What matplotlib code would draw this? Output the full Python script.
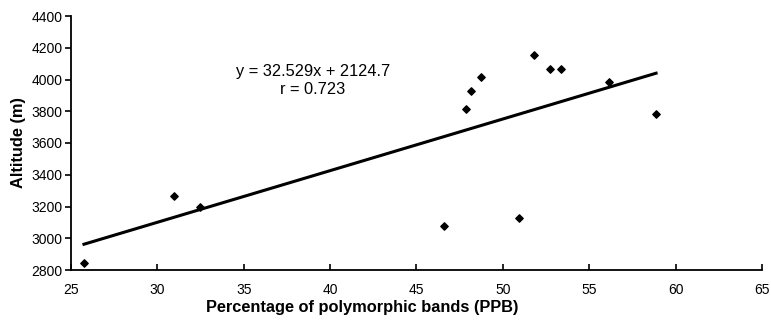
import numpy as np
import matplotlib.pyplot as plt

plt.rcParams['font.family'] = ['Liberation Sans', 'DejaVu Sans']

# percentage of polymorphic bands vs altitude
ppb = [25.75, 30.98, 32.48, 46.61, 47.85, 48.14, 48.73, 50.93, 51.82, 52.75, 53.35, 56.13, 58.87]
altitude = [2845, 3266, 3197, 3077, 3814, 3928, 4014, 3129, 4152, 4066, 4066, 3982, 3783]

slope = 32.529
intercept = 2124.7
r_value = 0.723

fig = plt.figure(figsize=(7.71, 3.2), dpi=100)
ax = fig.add_axes([0.0921, 0.15625, 0.8962, 0.79375])

ax.scatter(ppb, altitude, marker='D', s=14, color='black', zorder=3)

# trend line over data range
xs = np.array([min(ppb), max(ppb)])
ax.plot(xs, slope * xs + intercept, color='black', lw=2.2)

ax.text(39.0, 4049, f"y = {slope}x + {intercept}", ha='center', va='center', fontsize=11.8)
ax.text(39.0, 3940, f"r = {r_value}", ha='center', va='center', fontsize=11.8)

ax.set_xlim(25, 65)
ax.set_ylim(2800, 4400)
ax.set_xticks(np.arange(25, 66, 5))
ax.set_yticks(np.arange(2800, 4401, 200))
ax.set_xlabel('Percentage of polymorphic bands (PPB)', fontsize=11.8, fontweight='bold')
ax.set_ylabel('Altitude (m)', fontsize=11.8, fontweight='bold', labelpad=4)
ax.xaxis.set_label_coords(0.421, -0.118)

for side in ['top', 'right']:
    ax.spines[side].set_visible(False)
for side in ['left', 'bottom']:
    ax.spines[side].set_linewidth(1.3)
ax.tick_params(axis='x', direction='in', length=4, width=1.2, labelsize=10, pad=9)
ax.tick_params(axis='y', direction='out', length=4, width=1.2, labelsize=10, pad=2)

fig.savefig('out.png', dpi=100)
